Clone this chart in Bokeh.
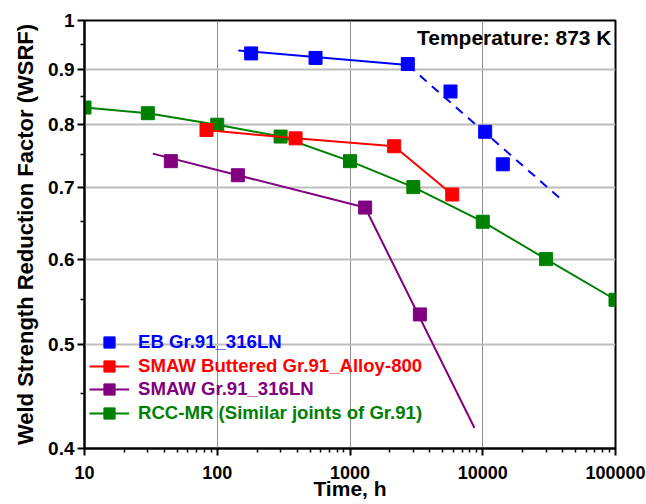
from bokeh.plotting import figure
from bokeh.models import FixedTicker, Legend, LegendItem, Label
from bokeh.embed import file_html
from bokeh.resources import INLINE

# Creep rupture time (h) and weld strength reduction factor at 873 K
eb_time = [180, 550, 2725, 5715, 10430, 14160]
eb_wsrf = [0.932, 0.923, 0.911, 0.859, 0.788, 0.735]
eb_fit_time = [144, 2725]
eb_fit_wsrf = [0.938, 0.909]
eb_trend_time = [2725, 37900]
eb_trend_wsrf = [0.909, 0.684]

smaw_b_time = [83, 389, 2150, 5890]
smaw_b_wsrf = [0.791, 0.777, 0.764, 0.689]

smaw_time = [44.7, 143, 1300, 3360]
smaw_wsrf = [0.740, 0.718, 0.670, 0.533]
smaw_fit_time = [32.7, 1300, 8670]
smaw_fit_wsrf = [0.752, 0.670, 0.418]

rcc_time = [10, 30, 100, 300, 1000, 3000, 10000, 30000, 100000]
rcc_wsrf = [0.83, 0.82, 0.80, 0.78, 0.74, 0.70, 0.65, 0.60, 0.55]

x_ticks = [10, 100, 1000, 10000, 100000]
x_tick_labels = ["10", "100", "1000", "10000", "100000"]
x_minor = [m * 10 ** d for d in range(1, 5) for m in range(2, 10)]
y_ticks = [0.4, 0.5, 0.6, 0.7, 0.8, 0.9, 1.0]
y_tick_labels = ["0.4", "0.5", "0.6", "0.7", "0.8", "0.9", "1"]
y_minor = [0.45, 0.55, 0.65, 0.75, 0.85, 0.95]

FONT = "Liberation Sans"
BLUE, RED, PURPLE, GREEN = "#0000ff", "#ff0000", "#800080", "#008000"

p = figure(width=646, height=504, x_axis_type="log", y_axis_type="log",
           x_range=(10, 100000), y_range=(0.4, 1.0),
           output_backend="svg", toolbar_location=None,
           min_border_left=84, min_border_right=31,
           min_border_top=20, min_border_bottom=56,
           x_axis_label="Time, h",
           y_axis_label="Weld Strength Reduction Factor (WSRF)")

p.background_fill_color = "white"
p.border_fill_color = "white"
p.outline_line_color = "black"
p.outline_line_width = 2

p.xaxis.ticker = FixedTicker(ticks=x_ticks, minor_ticks=x_minor)
p.yaxis.ticker = FixedTicker(ticks=y_ticks, minor_ticks=y_minor)
p.xaxis.major_label_overrides = dict(zip(x_ticks, x_tick_labels))
p.yaxis.major_label_overrides = dict(zip(y_ticks, y_tick_labels))

for ax in (p.xaxis, p.yaxis):
    ax.axis_line_width = 2
    ax.axis_line_color = "black"
    ax.major_tick_line_width = 2
    ax.minor_tick_line_width = 1.5
    ax.major_tick_out = 7
    ax.major_tick_in = 0
    ax.minor_tick_out = 4
    ax.minor_tick_in = 0
    ax.major_label_text_font = FONT
    ax.major_label_text_font_style = "bold"
    ax.major_label_text_color = "black"
    ax.axis_label_text_font = FONT
    ax.axis_label_text_font_style = "bold"
    ax.axis_label_text_color = "black"

p.xaxis.major_label_text_font_size = "18px"
p.xaxis.major_label_standoff = 10
p.xaxis.axis_label_text_font_size = "21px"
p.xaxis.axis_label_standoff = -5
p.yaxis.major_label_text_font_size = "19px"
p.yaxis.major_label_standoff = 3
p.yaxis.axis_label_text_font_size = "22px"
p.yaxis.axis_label_standoff = 7

p.xgrid.ticker = FixedTicker(ticks=x_ticks)
p.ygrid.ticker = FixedTicker(ticks=y_ticks)
p.xgrid.grid_line_color = "#8f8f8f"
p.xgrid.grid_line_width = 1
p.ygrid.grid_line_color = "#bdbdbd"
p.ygrid.grid_line_width = 2

# RCC-MR reference curve
g_line = p.line(rcc_time, rcc_wsrf, line_color=GREEN, line_width=2)
g_pts = p.scatter(rcc_time, rcc_wsrf, marker="square", size=13,
                  fill_color=GREEN, line_color=GREEN)

# SMAW Gr.91 / 316LN with its fitted trend
pu_line = p.line(smaw_fit_time, smaw_fit_wsrf, line_color=PURPLE, line_width=2)
pu_pts = p.scatter(smaw_time, smaw_wsrf, marker="square", size=13,
                   fill_color=PURPLE, line_color=PURPLE)

# SMAW buttered Gr.91 / Alloy-800
r_line = p.line(smaw_b_time, smaw_b_wsrf, line_color=RED, line_width=2)
r_pts = p.scatter(smaw_b_time, smaw_b_wsrf, marker="square", size=13,
                  fill_color=RED, line_color=RED)

# EB Gr.91 / 316LN: solid fit and dashed extrapolated trend
p.line(eb_fit_time, eb_fit_wsrf, line_color=BLUE, line_width=2)
p.line(eb_trend_time, eb_trend_wsrf, line_color=BLUE, line_width=2,
       line_dash="9 7")
b_pts = p.scatter(eb_time, eb_wsrf, marker="square", size=13,
                  fill_color=BLUE, line_color=BLUE)

entries = [
    ("EB Gr.91_316LN", BLUE, [b_pts], 92),
    ("SMAW Buttered Gr.91_Alloy-800", RED, [r_line, r_pts], 68),
    ("SMAW Gr.91_316LN", PURPLE, [pu_line, pu_pts], 45),
    ("RCC-MR (Similar joints of Gr.91)", GREEN, [g_line, g_pts], 21),
]
for label, color, rends, ypos in entries:
    leg = Legend(items=[LegendItem(label=label, renderers=rends)],
                 location=(5, ypos), orientation="vertical",
                 glyph_width=40, glyph_height=28, label_height=28,
                 label_standoff=9, padding=0, margin=0, spacing=0,
                 background_fill_alpha=0, border_line_alpha=0,
                 label_text_font=FONT, label_text_font_style="bold",
                 label_text_font_size="18.6px", label_text_color=color)
    p.add_layout(leg)

temp = Label(x=100000, y=1.0, x_offset=-4, y_offset=-5,
             text="Temperature: 873 K", text_align="right",
             text_baseline="top", text_font=FONT, text_font_style="bold",
             text_font_size="21px", text_color="black")
p.add_layout(temp)

open("out.html", "w").write(file_html(p, INLINE))
